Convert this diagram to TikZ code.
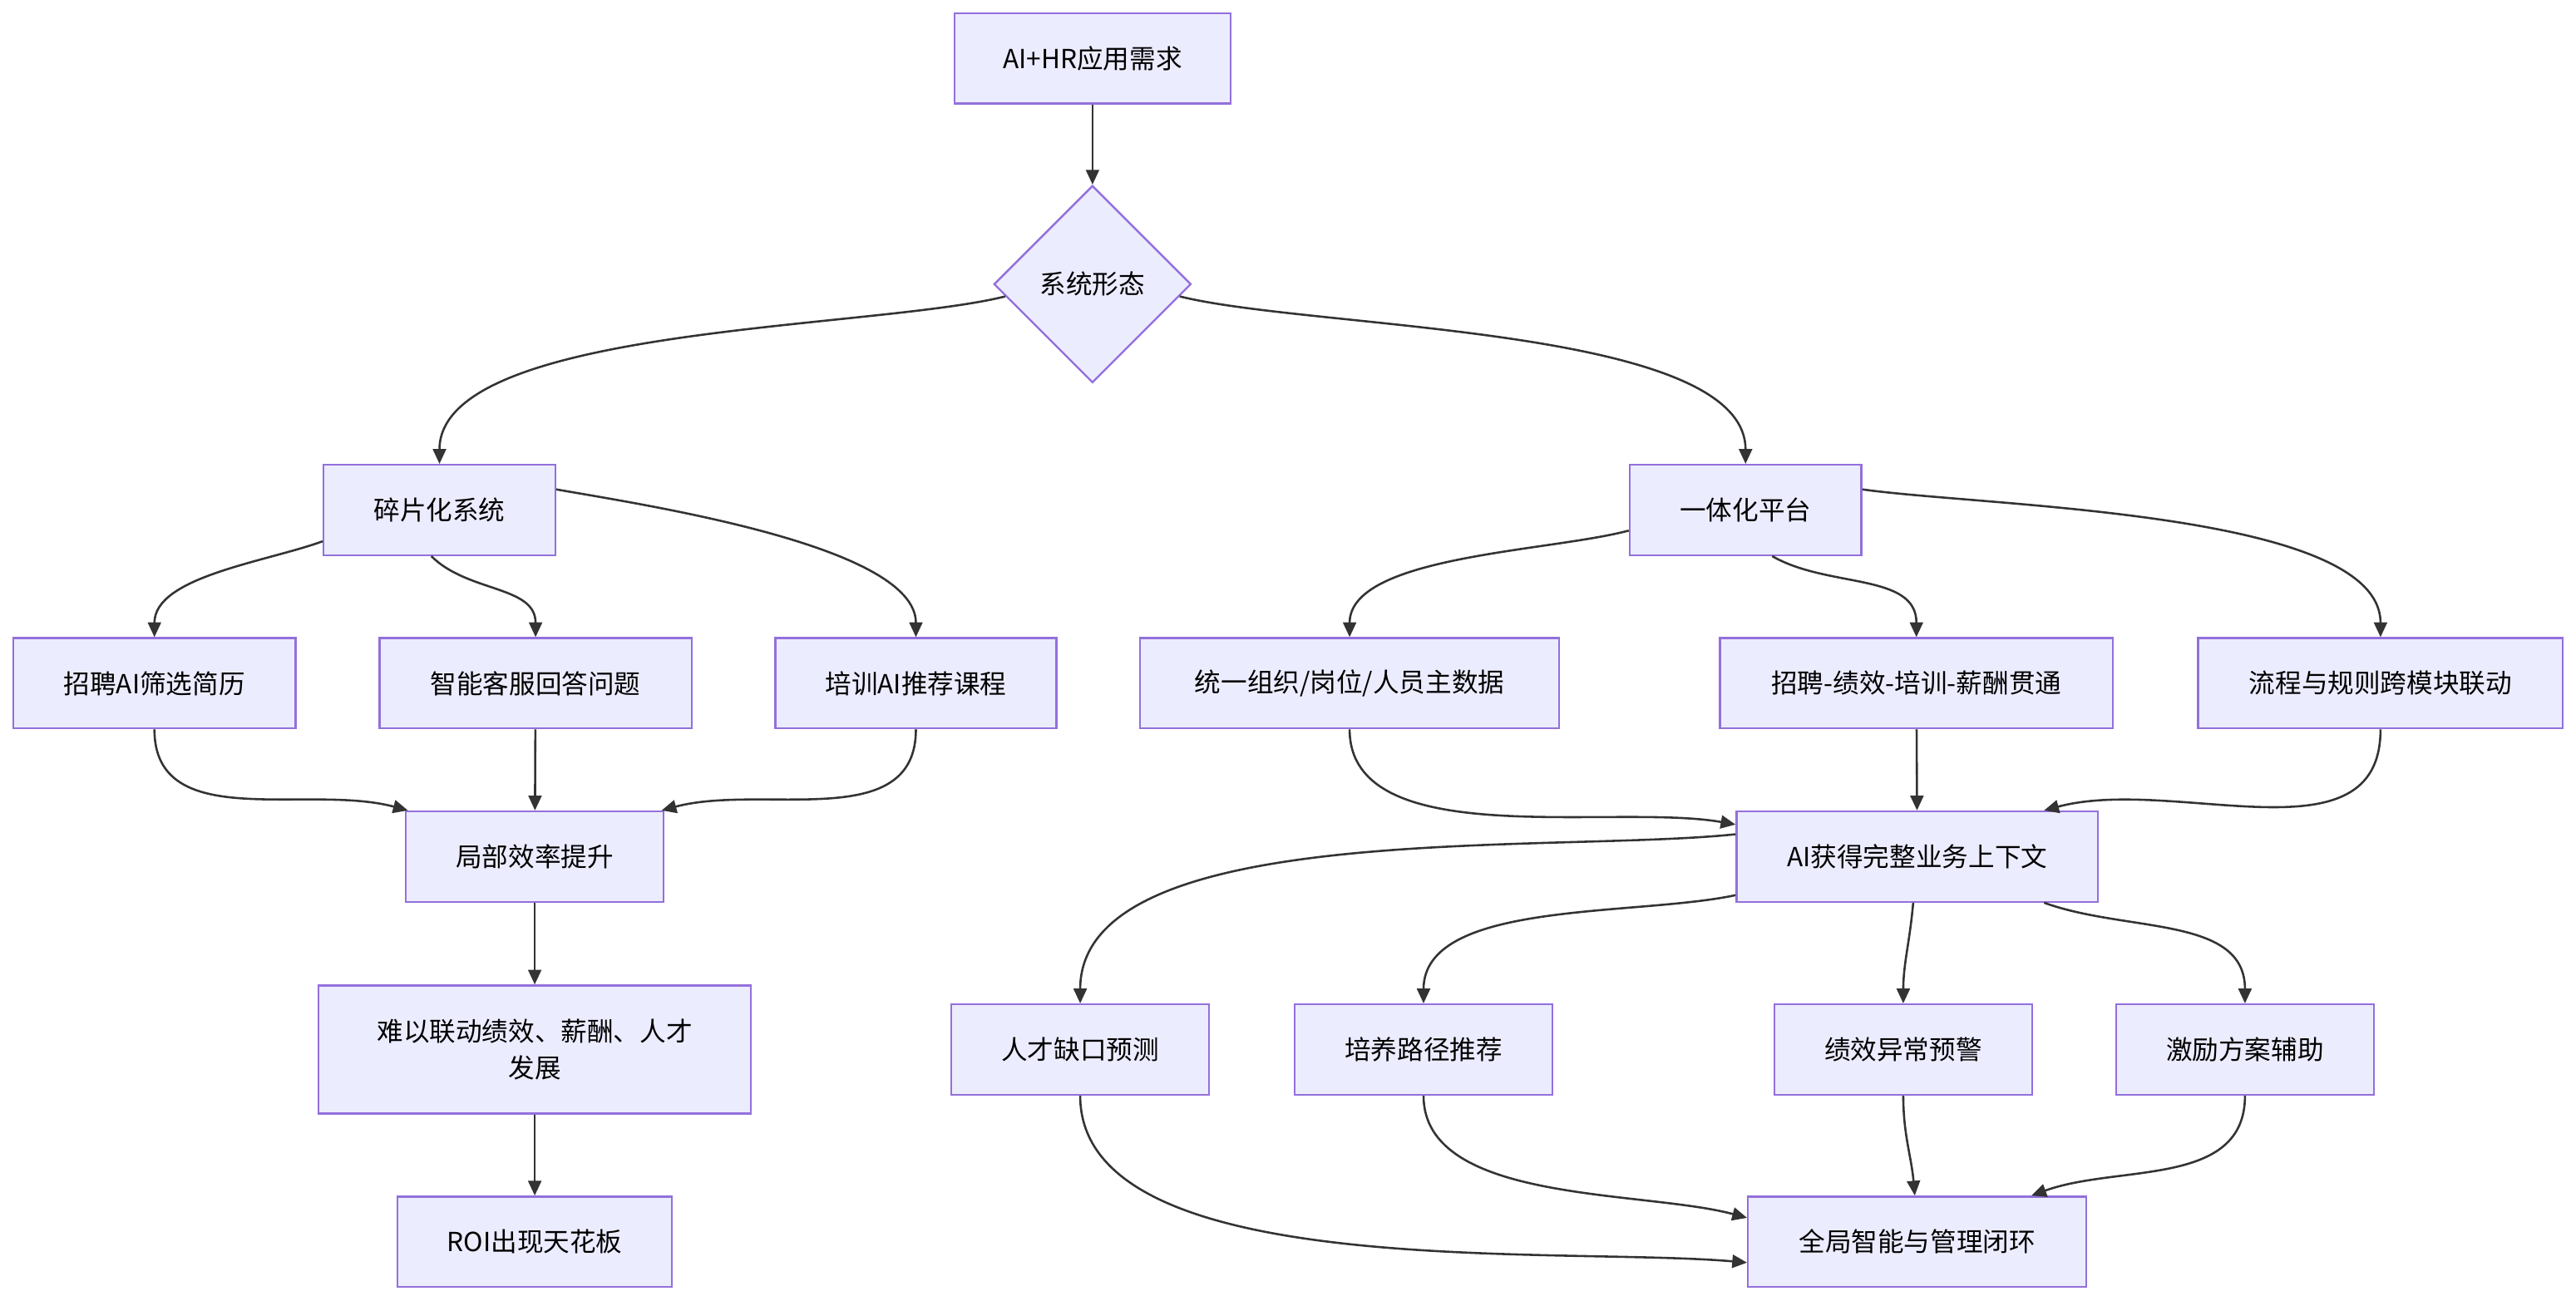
\documentclass[tikz,border=0pt]{standalone}
\usepackage{fontspec}
\setmainfont{Noto Sans CJK SC}
\usetikzlibrary{shapes.geometric,arrows.meta}
\definecolor{nfill}{HTML}{ECECFF}
\definecolor{nline}{HTML}{9370DB}
\definecolor{eline}{HTML}{333333}
\begin{document}
\begin{tikzpicture}[x=1pt,y=-1pt,
  box/.style={draw=nline,fill=nfill,line width=1.2pt,minimum height=55pt,inner sep=0pt,font=\fontsize{16}{22}\selectfont,align=center},
  dia/.style={draw=nline,fill=nfill,line width=1.2pt,diamond,aspect=1,minimum width=120pt,minimum height=120pt,inner sep=0pt,font=\fontsize{16}{20}\selectfont},
  e/.style={draw=eline,line width=1.3pt,-{Triangle[length=9pt,width=8pt]}}]
\useasboundingbox[fill=white] (0,0) rectangle (1568,792);
\node[box,minimum width=168pt] (top) at (665,35.5) {AI+HR应用需求};
\node[dia] (d) at (665,173) {系统形态};
\node[box,minimum width=141pt] (frag) at (267.5,310.5) {碎片化系统};
\node[box,minimum width=141pt] (plat) at (1062.5,310.5) {一体化平台};
\node[box,minimum width=172pt] (a1) at (94,416) {招聘AI筛选简历};
\node[box,minimum width=190pt] (a2) at (326,416) {智能客服回答问题};
\node[box,minimum width=171pt] (a3) at (557.5,416) {培训AI推荐课程};
\node[box,minimum width=255pt] (b1) at (821.5,416) {统一组织/岗位/人员主数据};
\node[box,minimum width=239pt] (b2) at (1166.5,416) {招聘-绩效-培训-薪酬贯通};
\node[box,minimum width=222pt] (b3) at (1449,416) {流程与规则跨模块联动};
\node[box,minimum width=157pt] (loc) at (325.5,521.5) {局部效率提升};
\node[box,minimum width=220pt] (ai) at (1167,521.5) {AI获得完整业务上下文};
\node[box,minimum width=263pt,minimum height=78pt] (hard) at (325.5,639) {难以联动绩效、薪酬、人才\\发展};
\node[box,minimum width=167pt] (roi) at (325.5,756) {ROI出现天花板};
\node[box,minimum width=157pt] (c1) at (657.5,639) {人才缺口预测};
\node[box,minimum width=157pt] (c2) at (866.5,639) {培养路径推荐};
\node[box,minimum width=157pt] (c3) at (1158.5,639) {绩效异常预警};
\node[box,minimum width=157pt] (c4) at (1366.5,639) {激励方案辅助};
\node[box,minimum width=206pt] (all) at (1167,756) {全局智能与管理闭环};
\draw[e] (top) -- (d);
\draw[e] (d.188) to[out=194,in=90,looseness=0.6] (frag.north);
\draw[e] (d.-8) to[out=-14,in=90,looseness=0.6] (plat.north);
\draw[e] (frag.195) to[out=200,in=90,looseness=0.8] (a1.north);
\draw[e] (frag.-100) to[out=-45,in=90] (a2.north);
\draw[e] (frag.10) to[out=-10,in=90,looseness=0.6] (a3.north);
\draw[e] (plat.-170) to[out=195,in=90,looseness=0.7] (b1.north);
\draw[e] (plat.-60) to[out=-30,in=90] (b2.north);
\draw[e] (plat.10) to[out=-8,in=90,looseness=0.6] (b3.north);
\draw[e] (a1.south) to[out=-90,in=165] (loc.160);
\draw[e] (a2) -- (loc);
\draw[e] (a3.south) to[out=-90,in=15] (loc.20);
\draw[e] (loc) -- (hard);
\draw[e] (hard) -- (roi);
\draw[e] (b1.south) to[out=-90,in=170,looseness=0.8] (ai.170);
\draw[e] (b2) -- (ai);
\draw[e] (b3.south) to[out=-90,in=15] (ai.20);
\draw[e] (ai.173) to[out=186,in=90,looseness=0.7] (c1.north);
\draw[e] (ai.-168) to[out=192,in=90,looseness=0.8] (c2.north);
\draw[e] (ai.-95) to[out=-95,in=90] (c3.north);
\draw[e] (ai.-20) to[out=-20,in=90] (c4.north);
\draw[e] (c1.south) to[out=-90,in=175,looseness=0.7] (all.-173);
\draw[e] (c2.south) to[out=-90,in=165,looseness=0.8] (all.172);
\draw[e] (c3.south) to[out=-90,in=95] (all.93);
\draw[e] (c4.south) to[out=-90,in=20] (all.22);
\end{tikzpicture}
\end{document}
